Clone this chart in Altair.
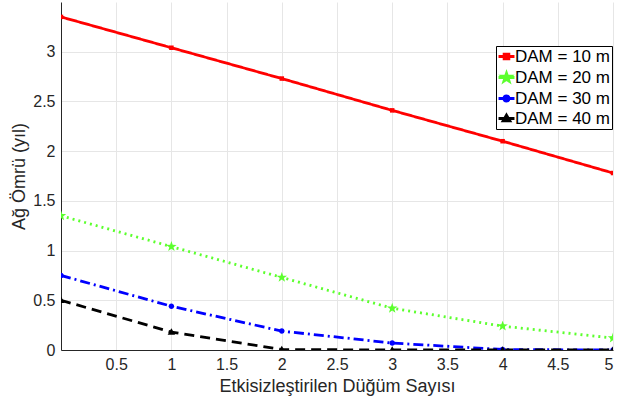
import altair as alt
import pandas as pd
import re

x_vals = [0, 1, 2, 3, 4, 5]
dam10 = [3.35, 3.04, 2.73, 2.41, 2.10, 1.78]
dam20 = [1.35, 1.04, 0.73, 0.42, 0.24, 0.12]
dam30 = [0.75, 0.44, 0.19, 0.07, 0.005, 0.0]
dam40 = [0.50, 0.18, 0.005, 0.0, 0.0, 0.0]
series_names = ["DAM = 10 m", "DAM = 20 m", "DAM = 30 m", "DAM = 40 m"]
colors = ["#ff0000", "#5cff2e", "#0000ff", "#000000"]
dashes = [[1, 0], [2, 4], [10, 4, 2, 4], [10, 6]]
x_ticks = [0.5, 1, 1.5, 2, 2.5, 3, 3.5, 4, 4.5, 5]
y_ticks = [0, 0.5, 1, 1.5, 2, 2.5, 3]

star = ("M0,-1L0.235,-0.324L0.951,-0.309L0.38,0.124L0.588,0.809L0,0.4"
        "L-0.588,0.809L-0.38,0.124L-0.951,-0.309L-0.235,-0.324Z")


def scale_path(p, s):
    return re.sub(r"-?\d+\.?\d*", lambda m: f"{float(m.group()) * s:.3f}", p)


def circle(r):
    return f"M{-r},0A{r},{r} 0 1,1 {r},0A{r},{r} 0 1,1 {-r},0Z"


# plot markers (size 100 -> 5 px per unit)
marker_shapes = [
    "M-0.45,-0.45H0.45V0.45H-0.45Z",
    scale_path(star, 1.1),
    circle(0.55),
    "M0,-0.75L0.75,0.55L-0.75,0.55Z",
]

# legend symbols (size 196 -> 7 px per unit): line + marker
leg_shapes = [
    "M-1.14,0H1.14M-0.34,-0.34H0.34V0.34H-0.34Z",
    "M-1.14,0H1.14" + scale_path(star, 0.62),
    "M-1.14,0H1.14" + circle(0.36),
    "M-1.14,0H1.14M0,-0.48L0.48,0.34L-0.48,0.34Z",
]

rows = []
for name, vals in zip(series_names, [dam10, dam20, dam30, dam40]):
    for xv, yv in zip(x_vals, vals):
        rows.append({"x": xv, "y": yv, "s": name})
df = pd.DataFrame(rows)

xenc = alt.X("x:Q", scale=alt.Scale(domain=[0, 5], nice=False),
             axis=alt.Axis(values=x_ticks, format="~g", title="Etkisizleştirilen Düğüm Sayısı"))
yenc = alt.Y("y:Q", scale=alt.Scale(domain=[0, 3.5], nice=False),
             axis=alt.Axis(values=y_ticks, format="~g", title="Ağ Ömrü (yıl)"))

lines = alt.Chart(df).mark_line(strokeWidth=2.8, clip=True).encode(
    x=xenc, y=yenc,
    color=alt.Color("s:N", scale=alt.Scale(domain=series_names, range=colors), legend=None),
    strokeDash=alt.StrokeDash("s:N", scale=alt.Scale(domain=series_names, range=dashes), legend=None),
)

points = alt.Chart(df).mark_point(filled=True, opacity=1, size=100, clip=True).encode(
    x="x:Q", y="y:Q",
    color=alt.Color("s:N", scale=alt.Scale(domain=series_names, range=colors), legend=None),
    shape=alt.Shape("s:N", scale=alt.Scale(domain=series_names, range=marker_shapes), legend=None),
)

leg = alt.Legend(title=None, orient="none", legendX=435, legendY=44,
                 symbolSize=196, symbolStrokeWidth=2.8,
                 labelFontSize=17, labelFont="Liberation Sans",
                 labelColor="#000000", rowPadding=2, labelOffset=0,
                 strokeColor="#000000", fillColor="#ffffff",
                 padding=2, symbolOpacity=1)

legend_layer = alt.Chart(df).transform_filter("false").mark_point(
    filled=True, opacity=1, size=196, strokeWidth=2.8
).encode(
    x="x:Q", y="y:Q",
    fill=alt.Fill("s:N", scale=alt.Scale(domain=series_names, range=colors), legend=leg),
    stroke=alt.Stroke("s:N", scale=alt.Scale(domain=series_names, range=colors), legend=leg),
    shape=alt.Shape("s:N", scale=alt.Scale(domain=series_names, range=leg_shapes), legend=leg),
)

chart = alt.layer(lines, points, legend_layer).resolve_scale(
    shape="independent", color="independent", strokeDash="independent",
    fill="independent", stroke="independent"
).properties(
    width=552, height=348,
    autosize=alt.AutoSizeParams(type="none"),
    padding={"left": 61, "top": 2, "right": 4, "bottom": 55},
).configure_view(stroke=None).configure_axis(
    labelFont="Liberation Sans", titleFont="Liberation Sans",
    labelFontSize=16, titleFontSize=18, labelColor="#262626", titleColor="#262626",
    titleFontWeight="normal", domainColor="#262626", domainWidth=1,
    gridColor="#e6e6e6", gridWidth=1, ticks=False, labelPadding=6,
).configure_axisX(titlePadding=5).configure_axisY(titlePadding=4)

chart.save("out.html", embed_options={"renderer": "svg", "actions": False})
